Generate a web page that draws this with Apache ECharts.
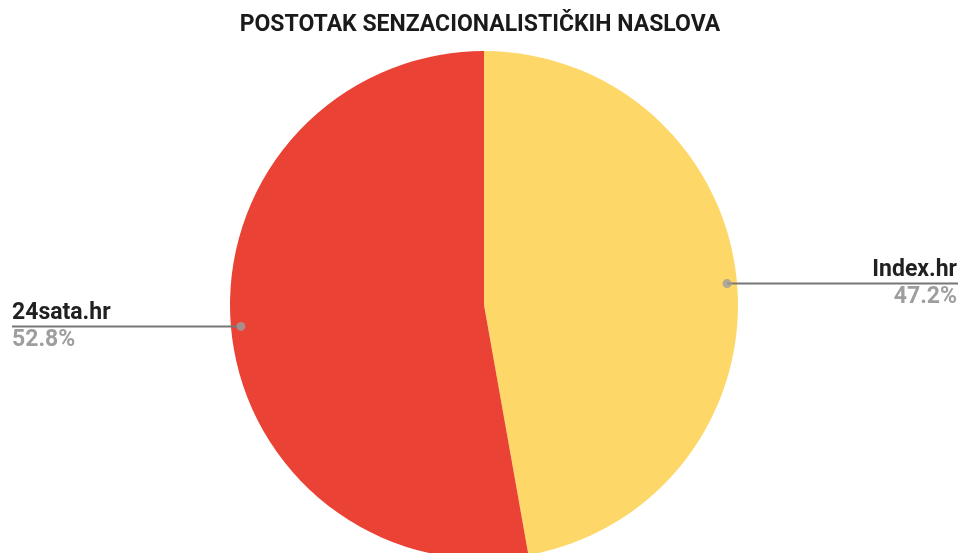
<!DOCTYPE html>
<html>
<head>
<meta charset="utf-8">
<script src="https://cdn.jsdelivr.net/npm/echarts@6/dist/echarts.min.js"></script>
<style>
  html, body { margin: 0; padding: 0; background: #fff; }
  #chart { width: 960px; height: 553px; }
</style>
</head>
<body>
<div id="chart"></div>
<script>
const titleText = 'POSTOTAK SENZACIONALISTIČKIH NASLOVA';
const categories = ['Index.hr', '24sata.hr'];
const values = [47.2, 52.8];
const colors = ['#fdd868', '#ea4335'];

const center = [484, 305];
const pieRadius = 254;
const dotRadius = 244;

const pieData = categories.map((name, i) => ({ name, value: values[i], itemStyle: { color: colors[i] } }));

// dot positions at the middle angle of each slice (polar: [radius, angle])
const total = values.reduce((a, b) => a + b, 0);
let acc = 0;
const dotData = values.map((v) => {
  const mid = acc + v / 2;
  acc += v;
  return [dotRadius, (mid / total) * 100];
});

const chart = echarts.init(document.getElementById('chart'));

chart.setOption({
  backgroundColor: '#fff',
  animation: false,
  title: {
    text: titleText,
    left: 'center',
    top: 9,
    textStyle: { fontFamily: 'Roboto', fontWeight: 'bold', fontSize: 23, color: '#1a1a1a' },
  },
  polar: { center, radius: pieRadius },
  angleAxis: { type: 'value', min: 0, max: 100, startAngle: 90, clockwise: true, show: false },
  radiusAxis: { type: 'value', min: 0, max: pieRadius, show: false },
  series: [
    {
      type: 'pie',
      center,
      radius: pieRadius,
      startAngle: 90,
      clockwise: true,
      silent: true,
      label: { show: false },
      labelLine: { show: false },
      data: pieData,
    },
    {
      type: 'pie',
      center,
      radius: dotRadius,
      startAngle: 90,
      clockwise: true,
      silent: true,
      z: 3,
      itemStyle: { color: 'transparent' },
      data: categories.map((name, i) => ({ name, value: values[i] })),
      label: {
        show: true,
        formatter: '{n|{b}}\n{p|{d}%}',
        rich: {
          n: { fontFamily: 'Roboto', fontWeight: 'bold', fontSize: 23, color: '#212121', lineHeight: 27 },
          p: { fontFamily: 'Roboto', fontWeight: 'bold', fontSize: 23, color: '#9e9e9e', lineHeight: 27 },
        },
      },
      labelLine: { show: true, length: 0, length2: 10, lineStyle: { color: '#777', width: 2 } },
      labelLayout: (params) => {
        const p0 = params.labelLinePoints[0];
        const right = p0[0] > center[0];
        const endX = right ? 958 : 12;
        return {
          x: right ? 957 : 12,
          y: p0[1],
          align: right ? 'right' : 'left',
          verticalAlign: 'middle',
          labelLinePoints: [p0, p0, [endX, p0[1]]],
        };
      },
    },
    {
      type: 'scatter',
      coordinateSystem: 'polar',
      symbolSize: 9,
      silent: true,
      z: 4,
      itemStyle: { color: '#9e9e9e' },
      data: dotData,
    },
  ],
});
</script>
</body>
</html>
